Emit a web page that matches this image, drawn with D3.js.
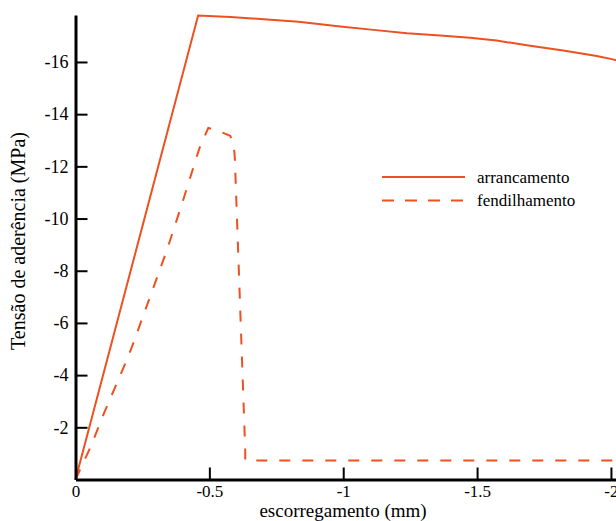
<!DOCTYPE html>
<html><head><meta charset="utf-8">
<script src="https://cdn.jsdelivr.net/npm/d3@7"></script>
<style>
html,body{margin:0;padding:0;background:#fff;}
svg{display:block;}
svg text{font-family:"Liberation Serif","DejaVu Serif",serif;}
</style></head>
<body>
<svg id="chart" width="616" height="521"></svg>
<script>
// Data (slip in mm, bond stress in MPa)
const arrancamentoX = [0, -0.458, -0.578, -0.703, -0.833, -0.989, -1.113, -1.238, -1.362, -1.474, -1.573, -1.698, -1.822, -1.947, -2.003, -2.02];
const arrancamentoY = [0, -17.78, -17.72, -17.64, -17.54, -17.36, -17.23, -17.10, -17.01, -16.93, -16.82, -16.62, -16.44, -16.23, -16.11, -16.06];
const fendilhamentoX = [0, -0.056, -0.106, -0.175, -0.209, -0.282, -0.342, -0.396, -0.463, -0.496, -0.535, -0.578, -0.591, -0.595, -0.634, -0.634, -2.02];
const fendilhamentoY = [0, -1.24, -2.53, -4.18, -5.03, -7.10, -8.81, -10.51, -12.70, -13.47, -13.35, -13.17, -12.82, -12.36, -1.11, -0.73, -0.73];
const xTicks = [0, -0.5, -1, -1.5, -2];
const yTicks = [-2, -4, -6, -8, -10, -12, -14, -16];
const seriesNames = ["arrancamento", "fendilhamento"];
const xTitle = "escorregamento (mm)";
const yTitle = "Tensão de aderência (MPa)";

const FONT = '"Liberation Serif","DejaVu Serif",serif';
const color = "#EE5020";
const svg = d3.select("#chart");
const x = d3.scaleLinear().domain([0, -2.02]).range([75.5, 616.3]);
const y = d3.scaleLinear().domain([0, -17.8]).range([479.5, 15]);

const line = d3.line().x(d => x(d[0])).y(d => y(d[1]));
const s1 = arrancamentoX.map((v, i) => [v, arrancamentoY[i]]);
const s2 = fendilhamentoX.map((v, i) => [v, fendilhamentoY[i]]);

svg.append("path").attr("d", line(s1)).attr("fill", "none")
  .attr("stroke", color).attr("stroke-width", 2);
svg.append("path").attr("d", line(s2)).attr("fill", "none")
  .attr("stroke", color).attr("stroke-width", 2).attr("stroke-dasharray", "11,12");

// Axes
const fmt = d => String(d);
const gx = svg.append("g").attr("transform", `translate(0,${y(0)})`)
  .call(d3.axisBottom(x).tickValues(xTicks).tickFormat(fmt)
    .tickSizeInner(-12).tickSizeOuter(0).tickPadding(5));
const gy = svg.append("g").attr("transform", `translate(${x(0)},0)`)
  .call(d3.axisLeft(y).tickValues(yTicks).tickFormat(fmt)
    .tickSizeInner(-12).tickSizeOuter(0).tickPadding(7));
[gx, gy].forEach(g => {
  g.attr("font-family", FONT).attr("font-size", 18);
  g.select(".domain").attr("stroke", "#000").attr("stroke-width", 3);
  g.selectAll(".tick line").attr("stroke", "#000").attr("stroke-width", 2);
  g.selectAll(".tick text").attr("fill", "#000")
    .attr("font-family", FONT).attr("font-size", 18);
});
gx.selectAll(".tick text").attr("font-size", 17);

// Axis titles
svg.append("text").attr("x", 343).attr("y", 517).attr("text-anchor", "middle")
  .attr("font-family", FONT).attr("font-size", 19).attr("fill", "#000").text(xTitle);
svg.append("text").attr("transform", "translate(25,241) rotate(-90)")
  .attr("text-anchor", "middle").attr("font-family", FONT).attr("font-size", 20)
  .attr("fill", "#000").text(yTitle);

// Legend
const leg = svg.append("g");
[0, 1].forEach(i => {
  const yy = 177 + i * 23.5;
  leg.append("line").attr("x1", 382).attr("x2", 465).attr("y1", yy).attr("y2", yy)
    .attr("stroke", color).attr("stroke-width", 2)
    .attr("stroke-dasharray", i === 1 ? "12,11" : null);
  leg.append("text").attr("x", 477).attr("y", yy + 5.5)
    .attr("font-family", FONT).attr("font-size", 17)
    .attr("fill", "#000").text(seriesNames[i]);
});
</script>
</body></html>
